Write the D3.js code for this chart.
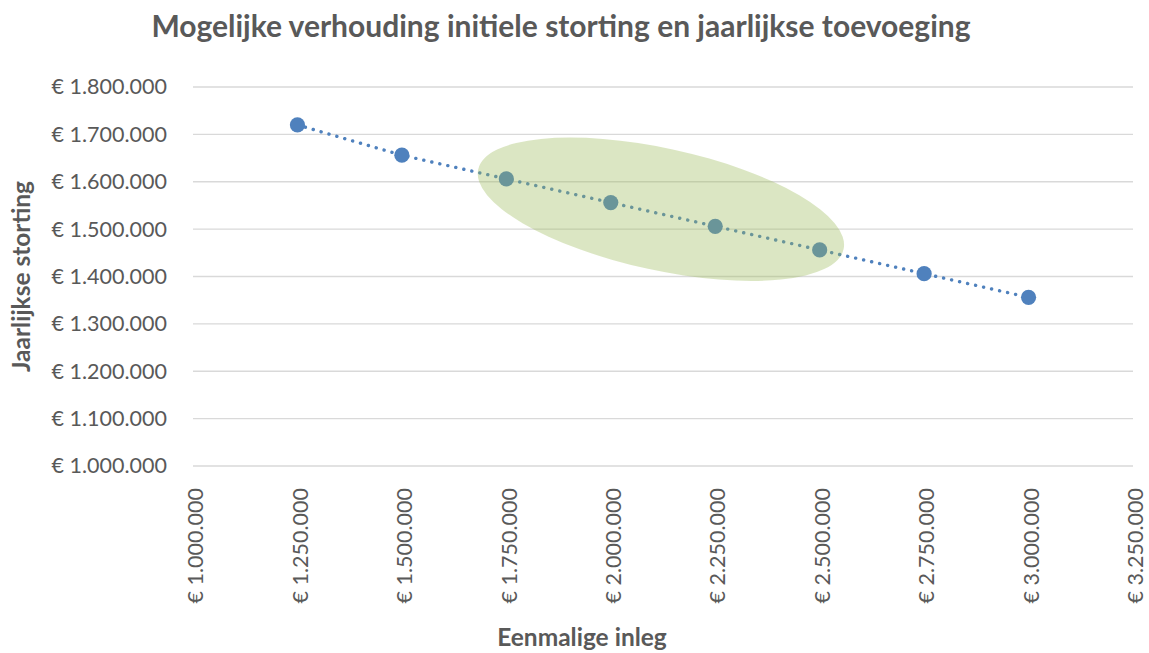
<!DOCTYPE html>
<html lang="nl">
<head>
<meta charset="UTF-8">
<title>Mogelijke verhouding initiele storting en jaarlijkse toevoeging</title>
<script src="https://d3js.org/d3.v7.min.js"></script>
<style>
    body { margin: 0; background: #fff; }
    svg { display: block; font-family: Lato, "Open Sans", sans-serif; }
    .grid line { stroke: #d9d9d9; stroke-width: 1.3; }
    .tick text { fill: #595959; font-family: Lato, "Open Sans", sans-serif; }
</style>
</head>
<body>
<div id="chart"></div>
<script>
    // eenmalige inleg (x) en jaarlijkse storting (y)
    var inleg = [1250000, 1500000, 1750000, 2000000, 2250000, 2500000, 2750000, 3000000];
    var storting = [1720000, 1656000, 1606000, 1556000, 1506000, 1456000, 1406000, 1356000];
    var xTicks = [1000000, 1250000, 1500000, 1750000, 2000000, 2250000, 2500000, 2750000, 3000000, 3250000];
    var yTicks = [1000000, 1100000, 1200000, 1300000, 1400000, 1500000, 1600000, 1700000, 1800000];

    // groene ellips (annotatie), midden in data-eenheden
    var ellipsCenter = [2120000, 1542000];

    var w = 1149, h = 653;
    var m = {top: 87, right: 16, bottom: 187, left: 193};

    var euro = function(d) {
        return '€ ' + d3.format(',')(d).replace(/,/g, '.');
    };

    var x = d3.scaleLinear().domain([1000000, 3250000]).range([m.left, w - m.right]);
    var y = d3.scaleLinear().domain([1000000, 1800000]).range([h - m.bottom, m.top]);

    var svg = d3.select('#chart').append('svg')
        .attr('width', w)
        .attr('height', h);

    // horizontale rasterlijnen
    svg.append('g').attr('class', 'grid')
        .selectAll('line')
        .data(yTicks)
        .enter().append('line')
        .attr('x1', x.range()[0])
        .attr('x2', x.range()[1])
        .attr('y1', function(d) { return y(d); })
        .attr('y2', function(d) { return y(d); });

    var yAxis = d3.axisLeft(y).tickValues(yTicks).tickFormat(euro).tickSize(0).tickPadding(26);
    var gy = svg.append('g')
        .attr('transform', 'translate(' + m.left + ',0)')
        .call(yAxis);
    gy.select('.domain').remove();
    gy.selectAll('text').style('font-size', '21.5px');

    var xAxis = d3.axisBottom(x).tickValues(xTicks).tickFormat(euro).tickSize(0);
    var gx = svg.append('g')
        .attr('transform', 'translate(0,' + y.range()[0] + ')')
        .call(xAxis);
    gx.select('.domain').remove();
    gx.selectAll('text')
        .style('font-size', '21.5px')
        .attr('text-anchor', 'end')
        .attr('transform', 'rotate(-90)')
        .attr('x', -22)
        .attr('y', 2)
        .attr('dy', '0.36em');

    // stippellijn tussen de punten
    var line = d3.line()
        .x(function(d, i) { return x(inleg[i]); })
        .y(function(d) { return y(d); });

    svg.append('path')
        .datum(storting)
        .attr('d', line)
        .attr('fill', 'none')
        .attr('stroke', '#4f81bd')
        .attr('stroke-width', 3.4)
        .attr('stroke-linecap', 'round')
        .attr('stroke-dasharray', '0.1 8.1');

    svg.append('g').selectAll('circle')
        .data(storting)
        .enter().append('circle')
        .attr('cx', function(d, i) { return x(inleg[i]); })
        .attr('cy', function(d) { return y(d); })
        .attr('r', 7.6)
        .attr('fill', '#4f81bd');

    // ellips over de middelste punten
    svg.append('ellipse')
        .attr('transform', 'translate(' + x(ellipsCenter[0]) + ',' + y(ellipsCenter[1]) + ') rotate(12.3)')
        .attr('rx', 187)
        .attr('ry', 61)
        .attr('fill', '#9bbb59')
        .attr('fill-opacity', 0.36);

    // titels
    svg.append('text')
        .attr('x', 561)
        .attr('y', 37)
        .attr('text-anchor', 'middle')
        .style('font-size', '30px')
        .style('font-weight', 'bold')
        .style('fill', '#595959')
        .text('Mogelijke verhouding initiele storting en jaarlijkse toevoeging');

    svg.append('text')
        .attr('x', 582)
        .attr('y', 646)
        .attr('text-anchor', 'middle')
        .style('font-size', '24.5px')
        .style('font-weight', 'bold')
        .style('fill', '#595959')
        .text('Eenmalige inleg');

    svg.append('text')
        .attr('transform', 'translate(30,' + ((m.top + h - m.bottom) / 2) + ') rotate(-90)')
        .attr('text-anchor', 'middle')
        .style('font-size', '24.5px')
        .style('font-weight', 'bold')
        .style('fill', '#595959')
        .text('Jaarlijkse storting');
</script>
</body>
</html>
